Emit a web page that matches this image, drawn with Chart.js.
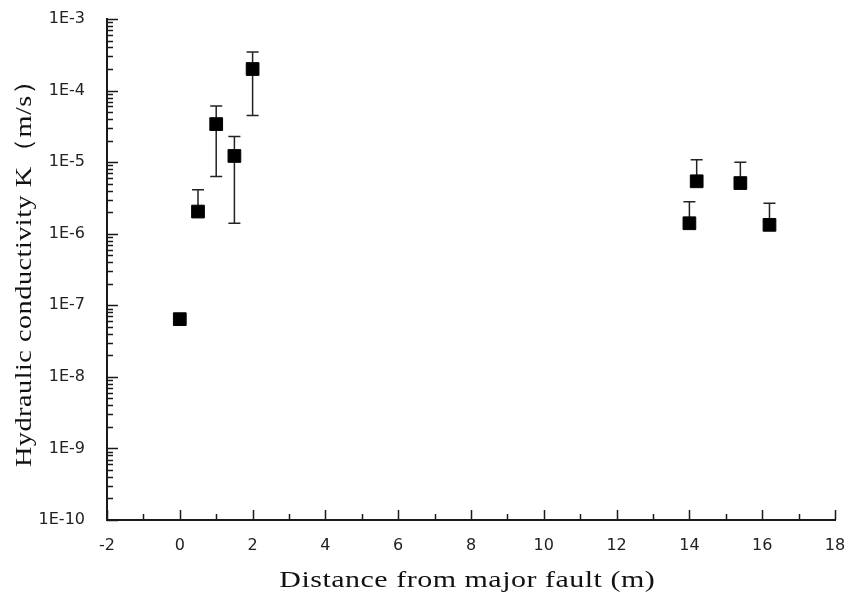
<!DOCTYPE html>
<html>
<head>
<meta charset="utf-8">
<script src="https://cdn.jsdelivr.net/npm/chart.js@4.4.1/dist/chart.umd.min.js"></script>
<style>
  html, body { margin: 0; padding: 0; background: #fff; }
  #wrap { width: 859px; height: 594px; }
</style>
</head>
<body>
<div id="wrap"><canvas id="c"></canvas></div>
<script>
// Measurement positions (m from the major fault)
const distances    = [0, 0.5, 1.0, 1.5, 2.0, 14.0, 14.2, 15.4, 16.2];
// Hydraulic conductivity K (m/s)
const conductivity = [6.4e-8, 2.04e-6, 3.4e-5, 1.22e-5, 2.0e-4, 1.4e-6, 5.4e-6, 5.1e-6, 1.33e-6];
// Error bar limits (lower / upper)
const errLow       = [6.4e-8, 2.04e-6, 6.3e-6, 1.4e-6, 4.5e-5, 1.4e-6, 5.4e-6, 5.1e-6, 1.33e-6];
const errHigh      = [6.4e-8, 4.1e-6, 6.1e-5, 2.28e-5, 3.45e-4, 2.8e-6, 1.08e-5, 1.0e-5, 2.67e-6];
// Axis ticks
const yDecades = [1e-10, 1e-9, 1e-8, 1e-7, 1e-6, 1e-5, 1e-4, 1e-3];
const xTicks   = [-2, 0, 2, 4, 6, 8, 10, 12, 14, 16, 18];
// Axis titles
const xTitle = 'Distance from major fault (m)';
const yTitle = 'Hydraulic conductivity K（m/s）';

const AXIS_COLOR = '#1a1a1a';
const TITLE_FONT = '24px "Liberation Serif"';
const TITLE_SPACING = 0.4;

// Vertical error bars with caps, drawn under the markers
const errorBars = {
  id: 'errorBars',
  beforeDatasetsDraw(chart) {
    const { ctx, scales: { x, y } } = chart;
    ctx.save();
    ctx.strokeStyle = '#222';
    ctx.lineWidth = 1.5;
    distances.forEach((d, i) => {
      const px = x.getPixelForValue(d);
      [errHigh[i], errLow[i]].forEach(end => {
        if (end === conductivity[i]) return;
        const p0 = y.getPixelForValue(conductivity[i]);
        const p1 = y.getPixelForValue(end);
        ctx.beginPath();
        ctx.moveTo(px, p0);
        ctx.lineTo(px, p1);
        ctx.moveTo(px - 6, p1);
        ctx.lineTo(px + 6, p1);
        ctx.stroke();
      });
    });
    ctx.restore();
  }
};

// Tick marks pointing into the plot area (major + minor)
const innerTicks = {
  id: 'innerTicks',
  afterDraw(chart) {
    const { ctx, chartArea: a, scales: { x, y } } = chart;
    ctx.save();
    ctx.strokeStyle = AXIS_COLOR;
    ctx.lineWidth = 1.5;
    ctx.beginPath();
    for (let k = -10; k <= -3; k++) {
      for (let m = 1; m <= 9; m++) {
        if (k === -3 && m > 1) break;
        const py = Math.round(y.getPixelForValue(m * Math.pow(10, k))) + 0.5;
        const len = m === 1 ? 11 : 6;
        ctx.moveTo(a.left, py);
        ctx.lineTo(a.left + len, py);
      }
    }
    for (let v = xTicks[0]; v <= xTicks[xTicks.length - 1]; v++) {
      const px = Math.round(x.getPixelForValue(v)) + 0.5;
      const len = v % 2 === 0 ? 10 : 6;
      ctx.moveTo(px, a.bottom);
      ctx.lineTo(px, a.bottom - len);
    }
    ctx.stroke();
    ctx.restore();
  }
};

// Draws a string centred on (0, 0), stretched along its baseline
function wideText(ctx, text, stretch) {
  ctx.scale(stretch, 1);
  const chars = [...text];
  const widths = chars.map(ch => ctx.measureText(ch).width);
  const total = widths.reduce((s, w) => s + w, 0) + TITLE_SPACING * (chars.length - 1);
  let cx = -total / 2;
  chars.forEach((ch, i) => {
    ctx.fillText(ch, cx, 0);
    cx += widths[i] + TITLE_SPACING;
  });
}

// Axis titles
const axisTitles = {
  id: 'axisTitles',
  afterDraw(chart) {
    const { ctx } = chart;
    const setup = () => {
      ctx.fillStyle = '#111';
      ctx.font = TITLE_FONT;
      ctx.textAlign = 'left';
      ctx.textBaseline = 'alphabetic';
    };
    ctx.save();
    setup();
    ctx.translate(467, 587);
    wideText(ctx, xTitle, 1.25);
    ctx.restore();

    ctx.save();
    setup();
    ctx.translate(31, 267);
    ctx.rotate(-Math.PI / 2);
    wideText(ctx, yTitle, 1.18);
    ctx.restore();
  }
};

new Chart(document.getElementById('c'), {
  type: 'scatter',
  data: {
    datasets: [{
      data: distances.map((d, i) => ({ x: d, y: conductivity[i] })),
      pointStyle: 'rect',
      pointRadius: 9,
      pointHoverRadius: 9,
      backgroundColor: '#000',
      borderColor: '#000',
      borderWidth: 1
    }]
  },
  options: {
    responsive: true,
    maintainAspectRatio: false,
    animation: false,
    events: [],
    layout: { padding: { top: 19, right: 24, left: 0, bottom: 0 } },
    plugins: { legend: { display: false }, tooltip: { enabled: false } },
    scales: {
      x: {
        type: 'linear',
        min: -2,
        max: 18,
        afterBuildTicks: s => { s.ticks = xTicks.map(v => ({ value: v })); },
        afterFit: s => { s.height = 74; s.paddingLeft = 0; s.paddingRight = 0; },
        grid: { display: false },
        border: { display: true, color: AXIS_COLOR, width: 2 },
        ticks: {
          padding: 8,
          color: '#222',
          font: { family: 'DejaVu Sans', size: 16 },
          maxRotation: 0
        },
        title: { display: false }
      },
      y: {
        type: 'logarithmic',
        min: 1e-10,
        max: 1e-3,
        afterBuildTicks: s => { s.ticks = yDecades.map(v => ({ value: v })); },
        afterFit: s => { s.width = 107; s.paddingTop = 0; s.paddingBottom = 0; },
        grid: { display: false },
        border: { display: true, color: AXIS_COLOR, width: 2 },
        ticks: {
          padding: 14,
          color: '#222',
          font: { family: 'DejaVu Sans', size: 16 },
          callback: v => '1E' + Math.round(Math.log10(v))
        },
        title: { display: false }
      }
    }
  },
  plugins: [errorBars, innerTicks, axisTitles]
});
</script>
</body>
</html>
